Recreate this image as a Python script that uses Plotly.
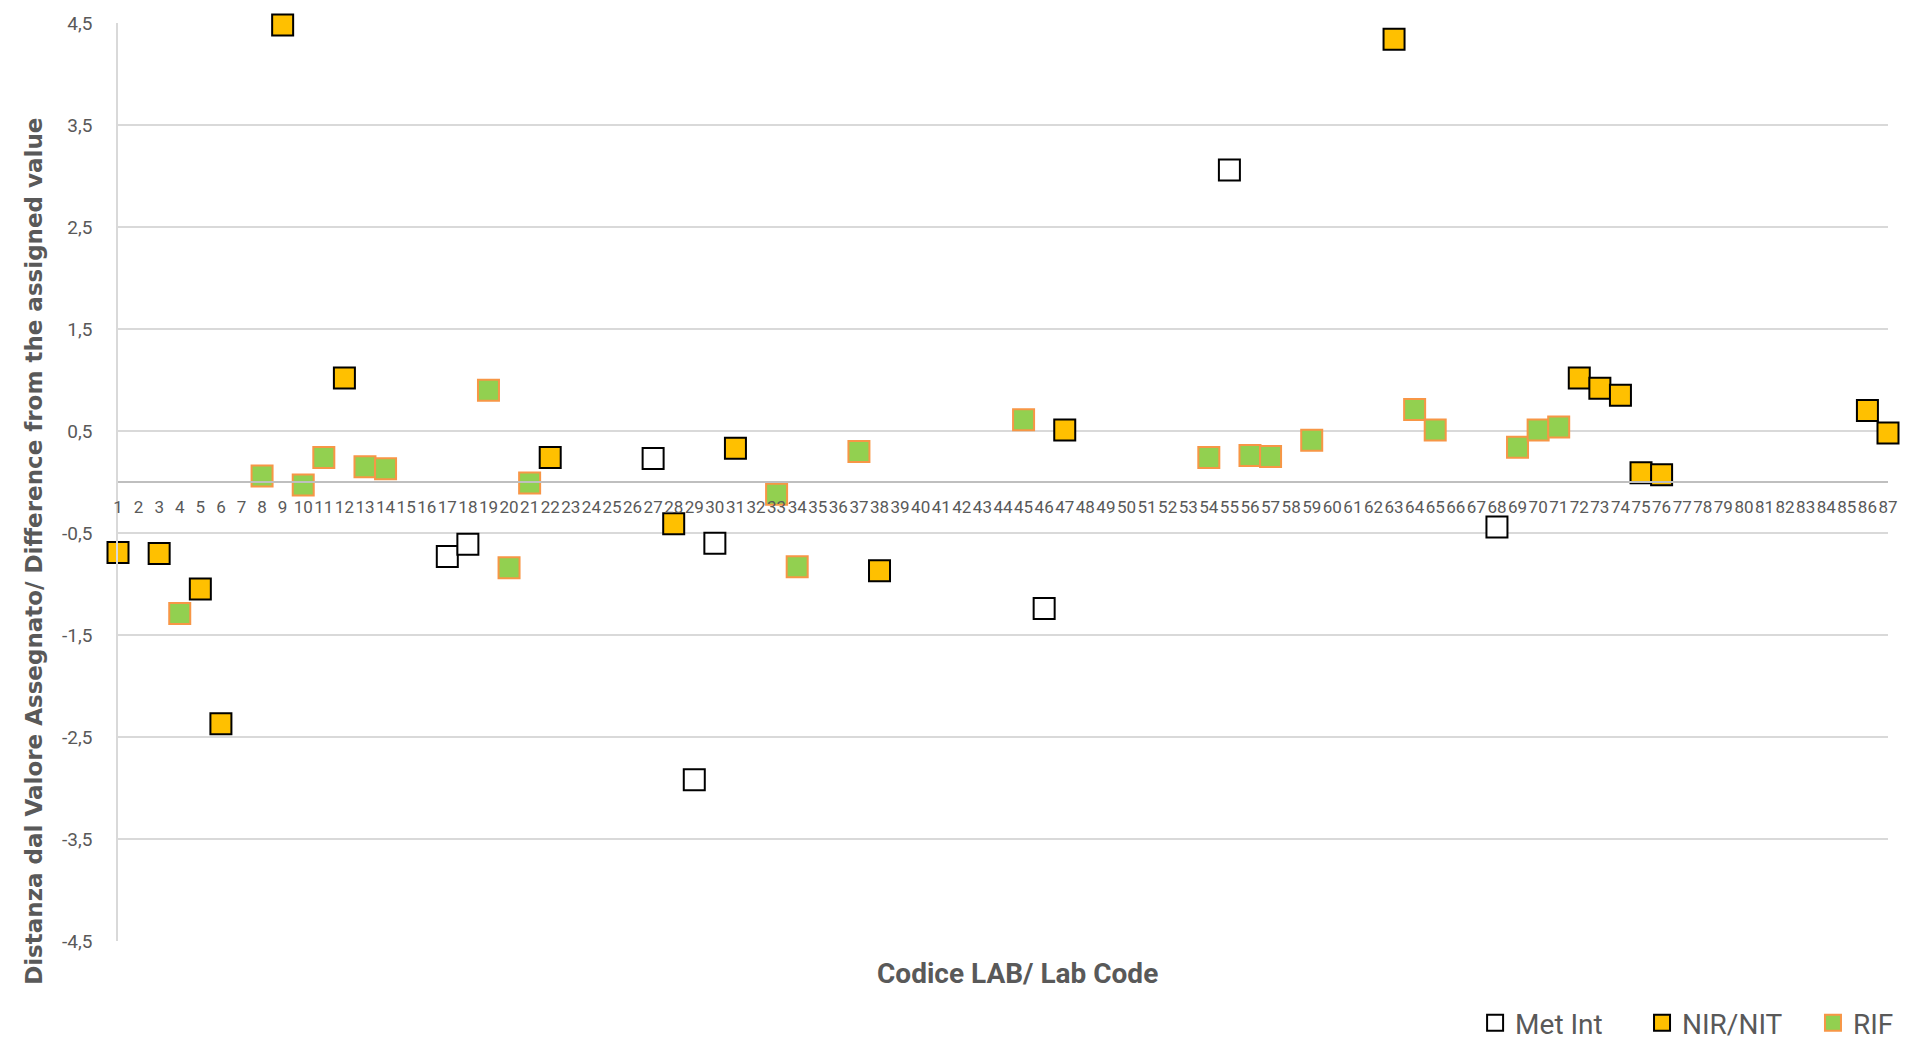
import plotly.graph_objects as go

# ---- data ----
lab_codes = list(range(1, 88))
x_tick_labels = [str(c) for c in lab_codes]

met_int_x = [17, 18, 27, 29, 30, 46, 55, 68]
met_int_y = [-0.73, -0.61, 0.23, -2.92, -0.60, -1.24, 3.06, -0.44]

nir_x = [1, 3, 5, 6, 9, 12, 22, 28, 31, 38, 47, 63, 72, 73, 74, 75, 76, 86, 87]
nir_y = [-0.69, -0.70, -1.05, -2.37, 4.48, 1.02, 0.24, -0.41, 0.33, -0.87, 0.51,
         4.34, 1.02, 0.92, 0.85, 0.09, 0.07, 0.70, 0.48]

rif_x = [4, 8, 10, 11, 13, 14, 19, 20, 21, 33, 34, 37, 45, 54, 56, 57, 59, 64, 65, 69, 70, 71]
rif_y = [-1.29, 0.06, -0.03, 0.24, 0.15, 0.13, 0.90, -0.84, -0.01, -0.12, -0.83, 0.30,
         0.61, 0.24, 0.26, 0.25, 0.41, 0.71, 0.51, 0.34, 0.51, 0.54]

y_tick_vals = [-4.5, -3.5, -2.5, -1.5, -0.5, 0.5, 1.5, 2.5, 3.5, 4.5]
y_tick_labels = ["-4,5", "-3,5", "-2,5", "-1,5", "-0,5", "0,5", "1,5", "2,5", "3,5", "4,5"]

GRAY_TEXT = "#595959"

fig = go.Figure()
fig.add_trace(go.Scatter(
    x=met_int_x, y=met_int_y, mode="markers", name="Met Int", legend="legend",
    marker=dict(symbol="square", size=21, color="white", line=dict(color="black", width=2)),
    cliponaxis=False))
fig.add_trace(go.Scatter(
    x=nir_x, y=nir_y, mode="markers", name="NIR/NIT", legend="legend2",
    marker=dict(symbol="square", size=21, color="#FFC000", line=dict(color="black", width=2)),
    cliponaxis=False))
fig.add_trace(go.Scatter(
    x=rif_x, y=rif_y, mode="markers", name="RIF", legend="legend3",
    marker=dict(symbol="square", size=21, color="#92D050", line=dict(color="#F79646", width=2)),
    cliponaxis=False))

def legend_box(xpos):
    return dict(orientation="h", xref="container", yref="container",
                x=xpos, y=0.0173, xanchor="left", yanchor="middle",
                font=dict(size=28, color=GRAY_TEXT, family="Roboto"),
                itemsizing="trace", bgcolor="rgba(0,0,0,0)")

fig.update_layout(
    width=1910, height=1041,
    paper_bgcolor="white", plot_bgcolor="white",
    margin=dict(l=118, r=18, t=21, b=100),
    font=dict(family="Roboto, sans-serif", color=GRAY_TEXT),
    showlegend=True,
    legend=legend_box(0.7723),
    legend2=legend_box(0.8597),
    legend3=legend_box(0.9492),
    xaxis=dict(
        range=[1, 87], tickmode="array", tickvals=lab_codes, ticktext=x_tick_labels,
        tickangle=0, tickfont=dict(size=17, color=GRAY_TEXT, family="Roboto"),
        showgrid=False, zeroline=False, showline=True, linecolor="#BFBFBF", linewidth=2,
        anchor="free", position=0.5, ticks="", ticklabelstandoff=10),
    yaxis=dict(
        range=[-4.5, 4.5], tickmode="array", tickvals=y_tick_vals, ticktext=y_tick_labels,
        tickfont=dict(size=19, color=GRAY_TEXT, family="Roboto"),
        showgrid=True, gridcolor="#D9D9D9", gridwidth=1.5, zeroline=False,
        showline=True, linecolor="#D9D9D9", linewidth=1.5, ticks="", ticklabelstandoff=20),
    annotations=[
        dict(text="<b>Codice LAB/ Lab Code</b>", xref="paper", yref="paper",
             x=0.508, y=-0.035, xanchor="center", yanchor="middle", showarrow=False,
             font=dict(size=28, color=GRAY_TEXT, family="Roboto")),
        dict(text="<b>Distanza dal Valore Assegnato/ Difference from the assigned value</b>",
             xref="paper", yref="paper", x=-0.0474, y=0.424, xanchor="center", yanchor="middle",
             textangle=-90, showarrow=False,
             font=dict(size=23, color=GRAY_TEXT, family="DejaVu Sans")),
    ],
)

fig.write_html("out.html", config={"displayModeBar": False},
               post_script="document.body.style.margin='0';document.body.style.overflow='hidden';")
